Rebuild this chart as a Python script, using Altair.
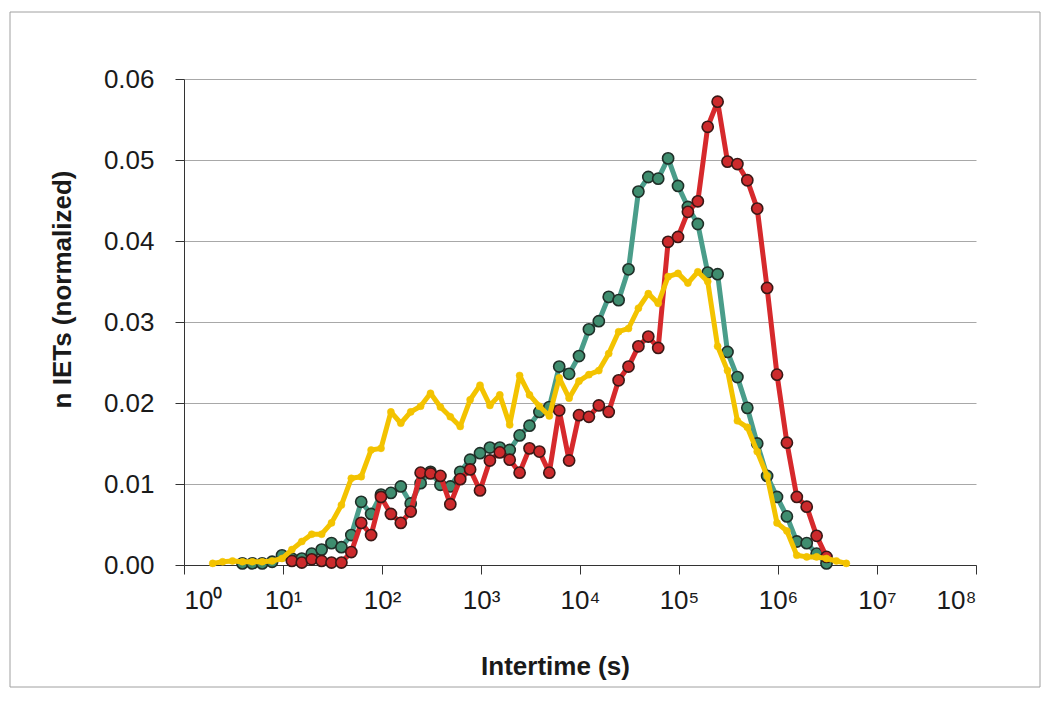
import altair as alt
import pandas as pd

# Bin centres (s) shared by all three series
intertime_s = [
    1.95, 2.455, 3.09, 3.89, 4.898, 6.166, 7.762, 9.772,
    12.3, 15.49, 19.5, 24.55, 30.9, 38.9, 48.98, 61.66, 77.62, 97.72,
    123, 154.9, 195, 245.5, 309, 389, 489.8, 616.6, 776.2, 977.2,
    1230, 1549, 1950, 2455, 3090, 3890, 4898, 6166, 7762, 9772,
    12300, 15490, 19500, 24550, 30900, 38900, 48980, 61660, 77620, 97720,
    123000, 154900, 195000, 245500, 309000, 389000, 489800, 616600, 776200, 977200,
    1230000, 1549000, 1950000, 2455000, 3090000, 3890000, 4898000,
]

teal_vals = [None] * 3 + [
    0.0002, 0.0002, 0.0002, 0.0004, 0.0012, 0.0008, 0.0008, 0.0014, 0.0019, 0.0027,
    0.0022, 0.0037, 0.0078, 0.0063, 0.0087, 0.0089, 0.0097, 0.0076, 0.0101, 0.0115,
    0.0099, 0.0097, 0.0115, 0.0130, 0.0138, 0.0145, 0.0145, 0.0142, 0.0160, 0.0172,
    0.0189, 0.0195, 0.0245, 0.0236, 0.0258, 0.0291, 0.0301, 0.0331, 0.0327, 0.0365,
    0.0461, 0.0479, 0.0477, 0.0502, 0.0468, 0.0442, 0.0421, 0.0361, 0.0359, 0.0263,
    0.0232, 0.0194, 0.0150, 0.0110, 0.0084, 0.0060, 0.0029, 0.0027, 0.0014, 0.0002,
] + [None] * 2

red_vals = [None] * 8 + [
    0.0005, 0.0003, 0.0007, 0.0005, 0.0003, 0.0003, 0.0016, 0.0052, 0.0037, 0.0084,
    0.0063, 0.0052, 0.0066, 0.0114, 0.0113, 0.0110, 0.0075, 0.0106, 0.0118, 0.0092,
    0.0129, 0.0139, 0.0130, 0.0114, 0.0144, 0.0140, 0.0114, 0.0191, 0.0129, 0.0185,
    0.0183, 0.0197, 0.0189, 0.0228, 0.0245, 0.0270, 0.0282, 0.0268, 0.0399, 0.0405,
    0.0436, 0.0449, 0.0541, 0.0572, 0.0498, 0.0495, 0.0475, 0.0440, 0.0342, 0.0235,
    0.0151, 0.0084, 0.0072, 0.0036, 0.0010,
] + [None] * 2

yellow_vals = [
    0.0002, 0.0004, 0.0005, 0.0004, 0.0004, 0.0004, 0.0005, 0.0008,
    0.0019, 0.0029, 0.0038, 0.0038, 0.0052, 0.0074, 0.0107, 0.0109, 0.0142, 0.0144,
    0.0189, 0.0175, 0.0189, 0.0196, 0.0212, 0.0195, 0.0183, 0.0171, 0.0204, 0.0222,
    0.0197, 0.0210, 0.0173, 0.0234, 0.0210, 0.0196, 0.0184, 0.0231, 0.0206, 0.0227,
    0.0235, 0.0240, 0.0261, 0.0288, 0.0292, 0.0317, 0.0335, 0.0323, 0.0356, 0.0360,
    0.0348, 0.0362, 0.0350, 0.0270, 0.0240, 0.0178, 0.0170, 0.0140, 0.0110, 0.0052,
    0.0042, 0.0012, 0.0010, 0.0010, 0.0008, 0.0005, 0.0002,
]

x_ticks = [1, 10, 100, 1000, 10000, 100000, 1000000, 10000000, 100000000]
y_ticks = [0.0, 0.01, 0.02, 0.03, 0.04, 0.05, 0.06]


def frame(vals):
    df = pd.DataFrame({"t": intertime_s, "n": vals})
    return df.dropna()


x_enc = alt.X(
    "t:Q",
    scale=alt.Scale(type="log", domain=[1, 100000000], nice=False),
    axis=alt.Axis(
        values=x_ticks,
        labelExpr="'10' + ['⁰','¹','²','³','⁴','⁵','⁶','⁷','⁸'][round(log(datum.value)/LN10)]",
        grid=False,
        labelPadding=13,
        title="Intertime (s)",
        titleX=371,
        titleY=101,
        titleAlign="center",
        titleBaseline="middle",
    ),
)
y_enc = alt.Y(
    "n:Q",
    scale=alt.Scale(domain=[0, 0.06], nice=False, zero=True),
    axis=alt.Axis(
        values=y_ticks,
        format=".2f",
        grid=True,
        labelPadding=21,
        title="n IETs (normalized)",
        titleX=-122,
        titleY=210,
        titleAngle=270,
        titleAlign="center",
        titleBaseline="middle",
    ),
)


def series(vals, line_color, fill, stroke, size, sw, lw):
    base = alt.Chart(frame(vals)).encode(x=x_enc, y=y_enc)
    line = base.mark_line(color=line_color, strokeWidth=lw, strokeJoin="round")
    pts = base.mark_point(
        shape="circle", filled=True, fill=fill, stroke=stroke,
        strokeWidth=sw, size=size, opacity=1,
    )
    return [line, pts]


teal = series(teal_vals, "#4a9d8a", "#3f8d6f", "#1f2f28", 125, 1.6, 5)
red = series(red_vals, "#d6292c", "#cc2a2c", "#3a1816", 125, 1.6, 5)
yellow = series(yellow_vals, "#f3c300", "#f3c300", "#f3c300", 50, 0.5, 5)

border = alt.Chart(pd.DataFrame({"a": [0]})).mark_rect(
    filled=False, stroke="#a0a0a0", strokeWidth=1
).encode(
    x=alt.value(-174), x2=alt.value(856), y=alt.value(-67), y2=alt.value(608)
)

chart = alt.layer(border, *teal, *red, *yellow).properties(
    width=792,
    height=486,
    autosize=alt.AutoSizeParams(type="none"),
    padding={"left": 176, "top": 71, "right": 66, "bottom": 123},
    background="white",
).configure_view(stroke=None).configure_axis(
    labelFont="Liberation Sans",
    labelFontSize=26,
    labelColor="#1a1a1a",
    titleFont="Liberation Sans",
    titleFontSize=26,
    titleFontWeight="bold",
    titleColor="#1a1a1a",
    domainColor="#333333",
    domainWidth=1,
    tickColor="#333333",
    tickSize=9,
    gridColor="#a8a8a8",
    gridWidth=1,
)

chart.save("out.html", embed_options={"renderer": "svg", "actions": False})
